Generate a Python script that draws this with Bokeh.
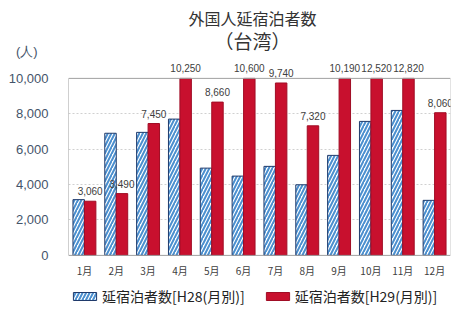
from bokeh.plotting import figure
from bokeh.models import ColumnDataSource, LabelSet, Legend, LegendItem, Label, FactorRange, Span, CustomJSTickFormatter
from bokeh.core.properties import value
from bokeh.transform import dodge
from bokeh.embed import file_html
from bokeh.resources import INLINE

months = ["1月", "2月", "3月", "4月", "5月", "6月", "7月", "8月", "9月", "10月", "11月", "12月"]
h28 = [3150, 6900, 6950, 7700, 4930, 4480, 5030, 3990, 5650, 7570, 8190, 3110]
h29 = [3060, 3490, 7450, 10250, 8660, 10600, 9740, 7320, 10190, 12520, 12820, 8060]
y_max = 10000
y_view = (-3000, 14400)   # visible span incl. title area above and legend area below
unit_pos = 11500          # where the unit "(人)" sits on the value axis
y_ticks = [0, 2000, 4000, 6000, 8000, 10000]

FONT = "Noto Sans CJK JP"

src = ColumnDataSource(dict(
    m=months, h28=h28, h29=h29,
    h29c=[min(v, y_max) for v in h29],
    lbl=[f"{v:,}" for v in h29],
    zero=[0] * len(months),
))

p = figure(frame_width=382, frame_height=308, x_range=FactorRange(*months), y_range=y_view,
           output_backend="svg", toolbar_location=None,
           min_border_left=68, min_border_right=16, min_border_top=0, min_border_bottom=0)

r1 = p.vbar(x=dodge("m", -0.18, range=p.x_range), top="h28", width=0.36, source=src,
            fill_color="white", line_color="#1F3A6B", line_width=1,
            hatch_pattern="/", hatch_color="#4A8FCF", hatch_scale=7, hatch_weight=2.0)
r2 = p.vbar(x=dodge("m", 0.18, range=p.x_range), top="h29c", width=0.36, source=src,
            fill_color="#C8102E", line_color="#A00D25", line_width=1)

labels = LabelSet(x=dodge("m", 0.18, range=p.x_range), y="h29c", text="lbl", source=src,
                  text_align="center", text_baseline="bottom", y_offset=6,
                  text_font_size="10px", text_color="#404040", text_font=value("Liberation Sans"))
p.add_layout(labels)

# category labels under the baseline
mlabels = LabelSet(x="m", y="zero", text="m", source=src, text_align="center",
                   text_baseline="middle", y_offset=-15, text_font_size="10px",
                   text_color="#404040", text_font=value(FONT))
p.add_layout(mlabels)

# frame lines from 0 up to the 10,000 level
p.outline_line_color = None
p.add_layout(Span(location=y_max, dimension="width", line_color="#A0A0A0", line_width=1))
p.add_layout(Span(location=0, dimension="width", line_color="#A0A0A0", line_width=1))
p.segment(x0=[0], y0=[0], x1=[0], y1=[y_max], line_color="#A0A0A0", line_width=1)
p.segment(x0=[len(months)], y0=[0], x1=[len(months)], y1=[y_max], line_color="#C8C8C8", line_width=1)

p.xaxis.visible = False
p.xgrid.grid_line_color = None
p.ygrid.grid_line_color = "#D0D0D0"
p.ygrid.grid_line_dash = "2 2"
p.ygrid.ticker = y_ticks[1:-1]
p.yaxis.ticker = y_ticks + [unit_pos]
p.yaxis.formatter = CustomJSTickFormatter(
    args=dict(u=unit_pos),
    code="return tick == u ? '(人)\u00a0\u00a0\u00a0' : tick.toLocaleString('en-US');")
p.yaxis.axis_line_color = None
p.yaxis.major_tick_line_color = None
p.yaxis.minor_tick_line_color = None
p.yaxis.major_label_text_color = "#44546A"
p.yaxis.major_label_text_font_size = "13px"
p.yaxis.major_label_text_font = "Liberation Sans"
p.yaxis.major_label_standoff = 14
p.x_range.range_padding = 0.0

legend = Legend(items=[LegendItem(label="延宿泊者数[H28(月別)]", renderers=[r1]),
                       LegendItem(label="延宿泊者数[H29(月別)]", renderers=[r2])],
                orientation="horizontal", border_line_color=None, background_fill_alpha=0,
                label_text_font=FONT, label_text_font_size="14px", label_text_color="#222222",
                glyph_width=29, glyph_height=10, spacing=18, padding=0, margin=0,
                label_standoff=3, location=(2, 2))
p.add_layout(legend, "center")

p.add_layout(Label(x=184, y=291, x_units="screen", y_units="screen", text="外国人延宿泊者数",
                   text_align="center", text_baseline="middle", text_font=FONT,
                   text_font_size="16px", text_color="#333333"))
p.add_layout(Label(x=184, y=268, x_units="screen", y_units="screen", text="（台湾）",
                   text_align="center", text_baseline="middle", text_font=FONT,
                   text_font_size="19px", text_color="#333333"))

open("out.html", "w").write(file_html(p, INLINE))
